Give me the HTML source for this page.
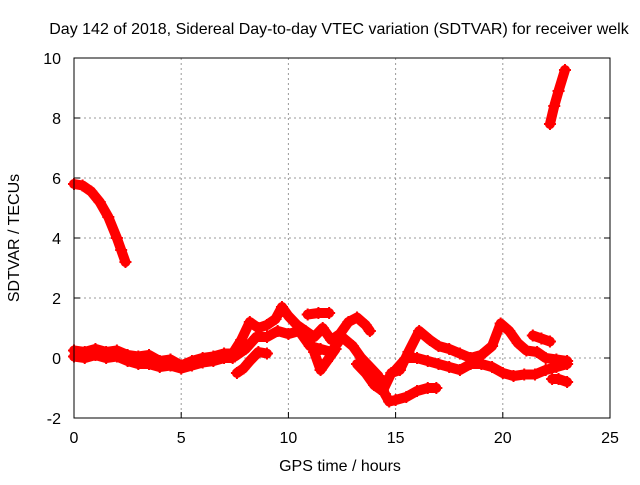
<!DOCTYPE html>
<html><head><meta charset="utf-8"><style>
body{margin:0;background:#fff}
svg text{font-family:"Liberation Sans",sans-serif;font-size:16px;fill:#000}
</style></head><body>
<svg id="chart" width="640" height="480" xmlns="http://www.w3.org/2000/svg">
<rect width="640" height="480" fill="#fff"/>
<text x="339" y="34" text-anchor="middle">Day 142 of 2018, Sidereal Day-to-day VTEC variation (SDTVAR) for receiver welk</text>
<text x="340" y="471" text-anchor="middle">GPS time / hours</text>
<text transform="translate(19,238) rotate(-90)" text-anchor="middle">SDTVAR / TECUs</text>
<g id="grid"></g>
<g id="ticks"></g>
<g id="marks"></g>
<rect x="74" y="58" width="536" height="360" fill="none" stroke="#000" stroke-width="1"/>
</svg>
<script>
const xTicks=[0,5,10,15,20,25];
const yTicks=[-2,0,2,4,6,8,10];
const trackMorning=[[0,5.8],[0.4,5.75],[0.8,5.55],[1.2,5.2],[1.6,4.7],[2.0,4.0],[2.2,3.6],[2.4,3.2]];
const trackEvening=[[22.2,7.8],[22.4,8.4],[22.6,8.9],[22.9,9.6]];
const trackMain=[[0,0.25],[0.5,0.2],[1,0.3],[1.5,0.2],[2,0.25],[2.5,0.1],[3,0.05],[3.5,0.1],[4,-0.1],[4.5,-0.05],[5,-0.25],[5.5,-0.1],[6,0.0],[6.5,0.05],[7,0.15],[7.4,0.15],[7.8,0.6],[8.2,1.2],[8.6,1.0],[9,1.1],[9.4,1.3],[9.7,1.7],[10,1.4],[10.4,1.1],[10.8,0.9],[11.2,0.7],[11.6,1.0],[12,0.6],[12.4,0.8],[12.8,1.2],[13.2,1.35],[13.6,1.1],[13.8,0.9]];
const trackMain2=[[0,0.05],[0.5,0.0],[1,0.1],[1.5,0.0],[2,0.05],[2.5,-0.1],[3,-0.2],[3.5,-0.2],[4,-0.3],[4.5,-0.25],[5,-0.35],[5.5,-0.25],[6,-0.15],[6.5,-0.1],[7,0.0],[7.4,0.0]];
const trackLow=[[7.5,0.05],[8,0.3],[8.5,0.7],[9,0.7],[9.5,0.9],[10,0.8],[10.5,0.9],[11,0.4],[11.5,0.3],[12,0.2],[12.5,0.7],[13,0.4],[13.4,0.0],[13.8,-0.3],[14.2,-0.6],[14.5,-1.2],[14.7,-1.45],[15,-1.4],[15.5,-1.3],[16,-1.1],[16.5,-1.0],[16.9,-1.0]];
const trackMid=[[13.2,-0.2],[13.6,-0.5],[14,-0.9],[14.4,-1.1],[14.8,-0.5],[15.2,-0.4],[15.6,0.2],[16.1,0.9],[16.6,0.6],[17,0.4],[17.5,0.3],[18,0.15],[18.5,0.0],[19,0.1],[19.5,0.4],[19.9,1.15],[20.3,0.9],[20.7,0.5],[21.1,0.25],[21.6,0.2],[22,0.0],[22.5,-0.05],[23,-0.1]];
const trackFlat=[[15,-0.4],[15.5,0.0],[16,0.0],[16.5,-0.1],[17,-0.2],[17.5,-0.3],[18,-0.4],[18.5,-0.2],[19,-0.2],[19.5,-0.3],[20,-0.5],[20.5,-0.6],[21,-0.55],[21.5,-0.55],[22,-0.4],[22.5,-0.3],[23,-0.2]];
const trackBranch=[[7.6,-0.5],[7.9,-0.35],[8.2,-0.1],[8.6,0.2],[9,0.15]];
const trackSeg=[[10.9,1.45],[11.4,1.5],[11.9,1.5]];
const trackDrop=[[11.2,0.2],[11.5,-0.4],[11.8,-0.1],[12.2,0.3]];
const trackLate=[[21.4,0.75],[21.8,0.65],[22.2,0.55]];
const trackEnd=[[22.3,-0.7],[22.6,-0.7],[23,-0.8]];
const tracks=[trackMorning,trackEvening,trackMain,trackMain2,trackLow,trackMid,trackFlat,trackBranch,trackSeg,trackDrop,trackLate,trackEnd];
const NS="http://www.w3.org/2000/svg";
const X=t=>74+t*536/25, Y=v=>418-(v+2)*30;
const grid=document.getElementById('grid'),ticks=document.getElementById('ticks'),marks=document.getElementById('marks');
function mk(tag,a,p){const e=document.createElementNS(NS,tag);for(const k in a)e.setAttribute(k,a[k]);p.appendChild(e);return e;}
xTicks.forEach(t=>{
 if(t>0&&t<25){const g=mk('line',{x1:X(t),x2:X(t),y1:58,y2:418,stroke:'#999','stroke-dasharray':'2,3'},grid);
 
 }
 const k=mk('line',{x1:X(t),x2:X(t),y1:418,y2:412,stroke:'#000'},ticks);
 
 
 const l=mk('text',{x:X(t),y:443,'text-anchor':'middle'},ticks);l.textContent=t;
 
 
});
yTicks.forEach(v=>{
 if(v>-2&&v<10){const g=mk('line',{x1:74,x2:610,y1:Y(v),y2:Y(v),stroke:'#999','stroke-dasharray':'2,3'},grid);
 
 }
 const k=mk('line',{x1:74,x2:80,y1:Y(v),y2:Y(v),stroke:'#000'},ticks);
 
 
 const k2=mk('line',{x1:604,x2:610,y1:Y(v),y2:Y(v),stroke:'#000'},ticks);
 
 
 const l=mk('text',{x:61,y:Y(v)+6,'text-anchor':'end'},ticks);l.textContent=v;
 
 
});
tracks.forEach(tr=>{
 const pl=mk('polyline',{points:tr.map(p=>X(p[0])+','+Y(p[1])).join(' '),fill:'none',stroke:'#f00','stroke-width':10,'stroke-linejoin':'round','stroke-linecap':'round'},marks);
 
 
 tr.forEach(p=>{
  const x=X(p[0]),y=Y(p[1]);
  const m=mk('path',{d:`M${x-6},${y}H${x+6}M${x},${y-6}V${y+6}`,stroke:'#f00','stroke-width':2},marks);
  
  
 });
});
</script>
</body></html>
